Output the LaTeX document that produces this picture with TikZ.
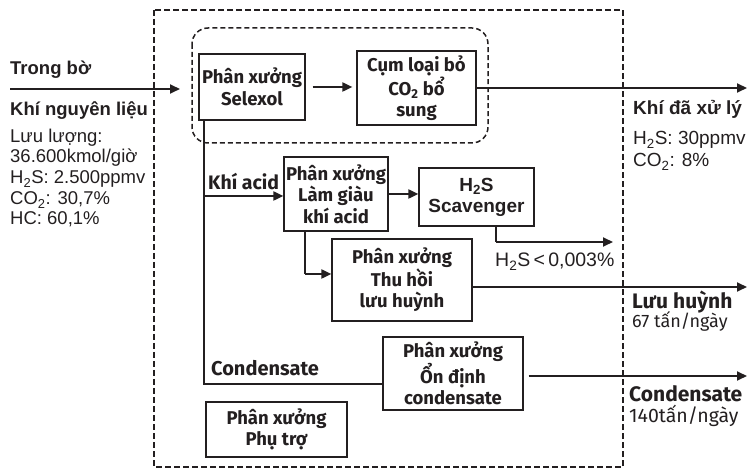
\documentclass[tikz,border=0pt]{standalone}
\usepackage{fontspec}
\setmainfont{Liberation Sans}
\newfontfamily\myriad{Fira Sans}
\usetikzlibrary{positioning,arrows.meta}
\definecolor{ink}{RGB}{35,31,32}

\tikzset{
  unit/.style={draw, line width=1.2pt, align=center, inner sep=0pt,
    font=\myriad\bfseries\fontsize{18.5}{21.5}\selectfont},
  flow/.style={line width=1.9pt, -{Triangle[length=10pt,width=9pt]}},
  pipe/.style={line width=1.2pt},
  border/.style={line width=1.5pt, dash pattern=on 6pt off 3pt},
  note/.style={inner sep=0pt, anchor=base west, font=\fontsize{18.5}{20.5}\selectfont},
  tag/.style={inner sep=0pt, anchor=base west, font=\myriad\fontsize{19}{18}\selectfont},
}

\begin{document}
\begin{tikzpicture}[x=1pt, y=-1pt, color=ink]
\useasboundingbox (0,0) rectangle (750,470);
        % Plant boundary and Selexol group
        \draw[border] (154,10) rectangle (623,467);
        \draw[border, dash pattern=on 5pt off 3pt, rounded corners=16pt] (192,28) rectangle (488,143);
        % Process units
        \node[unit, minimum width=106pt, minimum height=66pt] (sel) at (252,87) {Phân xưởng\\Selexol};
        \node[unit, minimum width=119pt, minimum height=74pt] (cum) at (416.5,88) {Cụm loại bỏ\\CO\textsubscript{2} bổ\\sung};
        \node[unit, minimum width=104pt, minimum height=74pt] (lg) at (336,194) {Phân xưởng\\Làm giàu\\khí acid};
        \node[unit, minimum width=115pt, minimum height=58pt, font=\bfseries\fontsize{19}{21}\selectfont] (sc) at (476.5,197) {H\textsubscript{2}S\\Scavenger};
        \node[unit, minimum width=140pt, minimum height=82pt] (th) at (402,280) {Phân xưởng\\Thu hồi\\lưu huỳnh};
        \node[unit, minimum width=140pt, minimum height=73pt] (ond) at (453,373.5) {Phân xưởng\\Ổn định\\condensate};
        \node[unit, minimum width=141pt, minimum height=55pt] (pt) at (276.5,429.5) {Phân xưởng\\Phụ trợ};
        % Feed and treated gas
        \coordinate (feed) at (10,89);
        \coordinate (feedend) at (180,89);
        \coordinate (gasout) at (747,88);
        \draw[flow] (feed) -- (feedend);
        \draw[flow, shorten <=7pt, shorten >=4pt] (sel.east) -- (sel.east -| cum.west);
        \draw[flow] (cum.east |- gasout) -- (gasout);
        % Acid gas and condensate lines
        \coordinate (acid) at (204,196);
        \coordinate (cond) at (204,384);
        \draw[pipe] (sel.south -| acid) -- (cond) -- (cond -| ond.west);
        \draw[flow] (acid) -- (acid -| lg.west);
        \draw[flow] (lg.east) -- (lg.east -| sc.west);
        \coordinate (scdrop) at (496,242);
        \coordinate (scout) at (613,242);
        \draw[pipe] (sc.south -| scdrop) -- (scdrop);
        \draw[flow] (scdrop) -- (scout);
        \coordinate (srudrop) at (305,274);
        \draw[pipe, line width=1.6pt] (lg.south -| srudrop) -- (srudrop);
        \draw[flow] (srudrop) -- (srudrop -| th.west);
        \coordinate (sout) at (747,287);
        \draw[flow] (th.east |- sout) -- (sout);
        \coordinate (cout) at (747,376);
        \draw[flow, shorten <=5pt] (ond.east |- cout) -- (cout);
        % Texts
        \node[note, font=\bfseries\fontsize{18.5}{20.5}\selectfont] (shore) at (10,75) {Trong bờ};
        \node[note, font=\bfseries\fontsize{18.5}{20.5}\selectfont] (feedname) at (10,116) {Khí nguyên liệu};
        \node[note] (f1) at (10,143) {Lưu lượng:};
        \node[note] (f2) at (10,163) {36.600kmol/giờ};
        \node[note] (f3) at (10,184) {H\textsubscript{2}S: 2.500ppmv};
        \node[note] (f4) at (10,205) {CO\textsubscript{2}: 30,7\%};
        \node[note] (f5) at (10,225) {HC: 60,1\%};
        \node[tag, font=\myriad\bfseries\fontsize{19.5}{18}\selectfont] (acidname) at (208,190) {Khí acid};
        \node[tag, font=\myriad\bfseries\fontsize{20}{18}\selectfont] (condname) at (211,376) {Condensate};
        \node[note, font=\fontsize{19.5}{20}\selectfont] (h2slim) at (495,267) {H\textsubscript{2}S\,<\,0,003\%};
        \node[note, font=\bfseries\fontsize{19}{20}\selectfont] (gasname) at (633,115) {Khí đã xử lý};
        \node[note, font=\fontsize{19}{20}\selectfont] (g1) at (633,145) {H\textsubscript{2}S: 30ppmv};
        \node[note, font=\fontsize{19}{20}\selectfont] (g2) at (633,167) {CO\textsubscript{2}: 8\%};
        \node[tag, font=\myriad\bfseries\fontsize{21}{18}\selectfont] (sname) at (632,309) {Lưu huỳnh};
        \node[tag, font=\myriad\fontsize{18}{18}\selectfont] (s1) at (632,328) {67 tấn/ngày};
        \node[tag, font=\myriad\bfseries\fontsize{21}{18}\selectfont] (cname) at (629,401) {Condensate};
        \node[tag, font=\myriad\fontsize{19.5}{18}\selectfont] (c1) at (629,422) {140tấn/ngày};
\end{tikzpicture}
\end{document}
